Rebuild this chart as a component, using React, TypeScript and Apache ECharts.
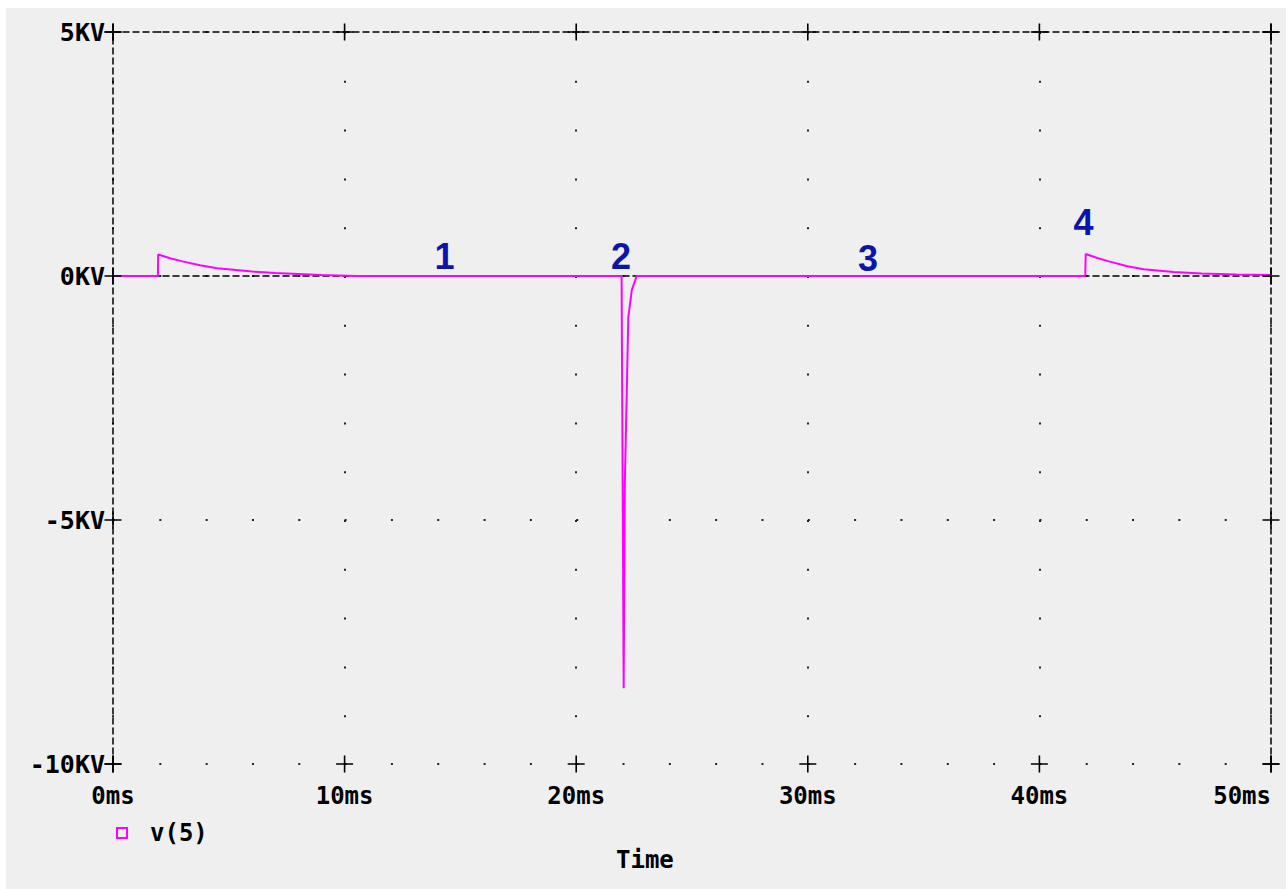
import React, { useEffect, useRef } from "react";
import * as echarts from "echarts";

// Axis ticks
const xTicks = [0, 10, 20, 30, 40, 50];
const yTicks = [-10, -5, 0, 5];

// Waveform v(5): time in ms, voltage in KV
const timeMs = [
  0, 1.94, 1.95, 2.5, 3.0, 3.75, 4.5, 5.2, 6.0, 7.0, 8.0, 9.0, 10.5,
  21.96, 22.05, 22.1, 22.2, 22.25, 22.4, 22.61,
  41.98, 42.0, 42.5, 43.0, 43.8, 44.5, 45.8, 47.0, 48.5, 50,
];
const voltageKV = [
  0, 0, 0.44, 0.36, 0.3, 0.22, 0.16, 0.13, 0.09, 0.06, 0.04, 0.02, 0,
  0, -8.45, -4.25, -2.0, -0.85, -0.29, 0,
  0, 0.45, 0.37, 0.3, 0.2, 0.14, 0.08, 0.05, 0.03, 0.02,
];

// Annotations
const annotationText = ["1", "2", "3", "4"];
const annotationX = [14.31, 21.93, 32.6, 41.9];
const annotationY = [0.4, 0.39, 0.35, 1.1];

const seriesName = "v(5)";
const FONT = "DejaVu Sans Mono";

export default function App() {
  const ref = useRef<HTMLDivElement>(null);

  useEffect(() => {
    if (!ref.current) return;
    const chart = echarts.init(ref.current, undefined, { renderer: "svg" });

    const lineData = timeMs.map((t, i) => [t, voltageKV[i]]);
    const annData = annotationText.map((s, i) => [annotationX[i], annotationY[i], s]);
    const crossData: number[][] = [];
    xTicks.forEach((x) => {
      crossData.push([x, yTicks[0]]);
      crossData.push([x, yTicks[yTicks.length - 1]]);
    });
    yTicks.forEach((y) => {
      crossData.push([xTicks[0], y]);
      crossData.push([xTicks[xTicks.length - 1], y]);
    });

    const dashed = { color: "#000", width: 1.5, type: [6, 4] as number[] };
    const labelStyle = {
      fontFamily: FONT,
      fontWeight: "bold" as const,
      fontSize: 24,
      color: "#000",
    };

    chart.setOption({
      animation: false,
      backgroundColor: "#efefef",
      grid: { left: 107, top: 24, width: 1158, height: 732, containLabel: false },
      legend: {
        data: [seriesName],
        left: 105,
        top: 808,
        itemWidth: 12,
        itemHeight: 12,
        icon: "path://M0,0H12V12H0ZM2,2V10H10V2Z",
        textStyle: { ...labelStyle, padding: [0, 0, 0, 17] },
      },
      graphic: [
        {
          type: "text",
          left: 639 - 29,
          top: 852 - 12,
          style: { text: "Time", ...labelStyle, fill: "#000" },
        },
      ],
      xAxis: [
        {
          type: "value",
          min: 0,
          max: 50,
          interval: 10,
          position: "bottom",
          axisLine: { show: true, lineStyle: dashed },
          axisTick: { show: false },
          axisLabel: {
            ...labelStyle,
            margin: 20,
            formatter: (v: number) => `${v}ms`,
            alignMaxLabel: "right",
          },
          splitLine: {
            show: true,
            lineStyle: { color: "#222", width: 2, type: [2, 46.8] },
          },
        },
        {
          type: "value",
          min: 0,
          max: 50,
          interval: 10,
          position: "top",
          axisLine: { show: true, onZero: false, lineStyle: dashed },
          axisTick: { show: false },
          axisLabel: { show: false },
          splitLine: { show: false },
        },
      ],
      yAxis: [
        {
          type: "value",
          min: -10,
          max: 5,
          interval: 5,
          position: "left",
          axisLine: { show: true, onZero: false, lineStyle: dashed },
          axisTick: { show: false },
          axisLabel: {
            ...labelStyle,
            fontSize: 25,
            margin: 8,
            formatter: (v: number) => `${v}KV`,
          },
          splitLine: {
            show: true,
            lineStyle: { color: "#222", width: 2, type: [2, 44.32] },
          },
        },
        {
          type: "value",
          min: -10,
          max: 5,
          interval: 5,
          position: "right",
          axisLine: { show: true, onZero: false, lineStyle: dashed },
          axisTick: { show: false },
          axisLabel: { show: false },
          splitLine: { show: false },
        },
      ],
      series: [
        {
          name: seriesName,
          type: "line",
          xAxisIndex: 0,
          yAxisIndex: 0,
          data: lineData,
          showSymbol: false,
          symbol: "none",
          lineStyle: { color: "#ff00ff", width: 2 },
          itemStyle: { color: "#ff00ff" },
          z: 5,
        },
        {
          name: "ticks",
          type: "scatter",
          data: crossData,
          clip: false,
          symbol: "path://M0,7.7H17V9.3H0ZM7.7,0H9.3V17H7.7Z",
          symbolSize: 17,
          itemStyle: { color: "#000", opacity: 1 },
          silent: true,
          z: 6,
        },
        {
          name: "annotations",
          type: "scatter",
          data: annData,
          symbolSize: 0,
          clip: false,
          itemStyle: { opacity: 1 },
          label: {
            show: true,
            position: "inside",
            formatter: (p: any) => p.value[2],
            color: "#0b16a8",
            fontFamily: "Liberation Sans",
            fontWeight: "bold",
            fontSize: 36,
          },
          silent: true,
          z: 7,
        },
      ],
    });

    return () => chart.dispose();
  }, []);

  return (
    <div
      ref={ref}
      style={{ position: "fixed", left: 6, top: 8, width: 1280, height: 881 }}
    />
  );
}
